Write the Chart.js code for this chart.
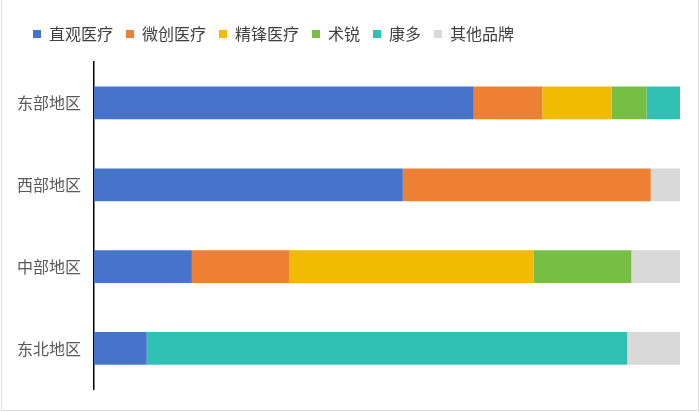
<!DOCTYPE html>
<html>
<head>
<meta charset="utf-8">
<script src="https://cdn.jsdelivr.net/npm/chart.js@4"></script>
<style>
  html, body { margin: 0; padding: 0; background: #fff; }
  #wrap { position: relative; width: 700px; height: 412px; }
  #frame { position: absolute; left: 1px; top: 0; right: 1px; bottom: 1px; border: 1px solid #dcdcdc; border-top: none; pointer-events: none; }
</style>
</head>
<body>
<div id="wrap">
  <canvas id="chart" width="700" height="412"></canvas>
  <div id="frame"></div>
</div>
<script>
const regions = ['东部地区', '西部地区', '中部地区', '东北地区'];
const brands = ['直观医疗', '微创医疗', '精锋医疗', '术锐', '康多', '其他品牌'];
const brandColors = ['#4674CD', '#ED8032', '#F2BA00', '#77BE44', '#31C1B4', '#D9D9D9'];

// share (%) per region
const intuitive = [64.8, 52.7, 16.7, 9.0];
const microport = [11.7, 42.3, 16.6, 0];
const edge = [11.8, 0, 41.7, 0];
const shurui = [6.0, 0, 16.7, 0];
const kangduo = [5.7, 0, 0, 82.0];
const others = [0, 5.0, 8.3, 9.0];

const seriesValues = [intuitive, microport, edge, shurui, kangduo, others];

const font = 'Noto Sans CJK SC';

const datasets = brands.map((name, i) => ({
    label: name,
    data: seriesValues[i],
    backgroundColor: brandColors[i],
    borderWidth: 0,
    barPercentage: 0.4,
    categoryPercentage: 1
}));

// extra room under the legend, and nudge it right to line up with the reference
const legendTweak = {
    id: 'legendTweak',
    beforeInit(chart) {
        const fit = chart.legend.fit;
        chart.legend.fit = function () {
            fit.call(this);
            this.height += 10;
        };
    },
    afterLayout(chart) {
        chart.legend.left += 6;
        chart.legend.right += 6;
    }
};

new Chart(document.getElementById('chart'), {
    type: 'bar',
    data: { labels: regions, datasets: datasets },
    options: {
        indexAxis: 'y',
        responsive: false,
        animation: false,
        layout: { padding: { left: 14, right: 20, top: 13, bottom: 22 } },
        plugins: {
            legend: {
                position: 'top',
                align: 'start',
                labels: {
                    boxWidth: 8,
                    boxHeight: 8,
                    padding: 13,
                    color: '#404040',
                    font: { family: font, size: 16 }
                }
            },
            tooltip: { enabled: false }
        },
        scales: {
            x: {
                stacked: true,
                min: 0,
                max: 100,
                display: false
            },
            y: {
                stacked: true,
                grid: { display: false, drawTicks: false },
                border: { display: true, color: '#000', width: 1.5 },
                ticks: {
                    padding: 13,
                    color: '#595959',
                    font: { family: font, size: 16 }
                },
                afterFit: function (scale) { scale.width = 80; }
            }
        }
    },
    plugins: [legendTweak]
});
</script>
</body>
</html>
